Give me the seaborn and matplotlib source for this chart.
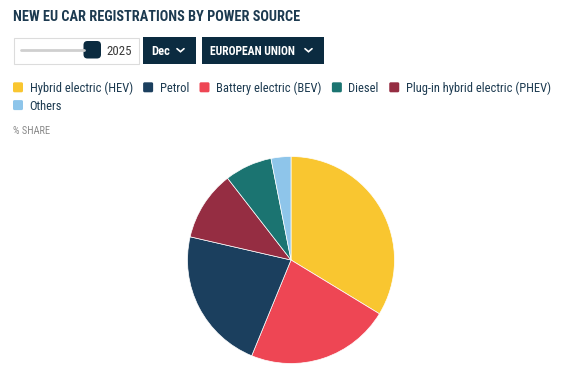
import matplotlib
matplotlib.use('Agg')
import matplotlib.pyplot as plt
from matplotlib import font_manager
from matplotlib.patches import FancyBboxPatch, Rectangle
import seaborn as sns

W, H = 567, 376

title = 'NEW EU CAR REGISTRATIONS BY POWER SOURCE'
year = '2025'
month = 'Dec'
region = 'EUROPEAN UNION'
unit_label = '% SHARE'

# legend order as shown above the chart
legend_labels = ['Hybrid electric (HEV)', 'Petrol', 'Battery electric (BEV)',
                 'Diesel', 'Plug-in hybrid electric (PHEV)', 'Others']
legend_colors = ['#F9C630', '#1B3F5E', '#EE4654', '#1B7471', '#952D42', '#8EC5EA']

# pie slices, clockwise from 12 o'clock (% share, Dec 2025)
pie_labels = ['Hybrid electric (HEV)', 'Battery electric (BEV)', 'Petrol',
              'Plug-in hybrid electric (PHEV)', 'Diesel', 'Others']
pie_share = [33.7, 22.5, 22.4, 10.9, 7.4, 3.1]

sns.set_theme(style='white')
palette = dict(zip(legend_labels, sns.color_palette(legend_colors)))

# pick a condensed face if the machine has one
fonts = font_manager.fontManager.ttflist
names = {f.name for f in fonts}
if 'Roboto Condensed' in names:
    cf = dict(family=['Roboto Condensed', 'DejaVu Sans'])
elif 'Liberation Sans Narrow' in names:
    cf = dict(family=['Liberation Sans Narrow', 'DejaVu Sans'])
else:
    cf = dict(family=['Roboto', 'DejaVu Sans'])

navy = '#0B2B40'
text_col = '#1C3A50'

fig = plt.figure(figsize=(W / 100, H / 100), dpi=100)
fig.patch.set_facecolor('white')

# overlay in pixel units for the header widgets
ui = fig.add_axes([0, 0, 1, 1])
ui.set_xlim(0, W)
ui.set_ylim(H, 0)
ui.axis('off')
renderer = fig.canvas.get_renderer()


def width(t):
    return t.get_window_extent(renderer).width


def fit(t, target):
    t.set_fontsize(t.get_fontsize() * target / width(t))


# title
t = ui.text(13, 20.7, title, fontsize=9, fontweight='bold', color=text_col, va='baseline', **cf)
fit(t, 286)

# year slider
ui.add_patch(Rectangle((14.5, 38.5), 125, 26, color='#E6E6E6', lw=0))
ui.add_patch(Rectangle((13.5, 37.5), 125, 26, facecolor='white', edgecolor='#DCDCDC', lw=0.8))
ui.plot([21, 84], [49.5, 49.5], color='#CFCFCF', lw=2, solid_capstyle='round')
ui.add_patch(FancyBboxPatch((83.5, 41), 17.5, 17.5, boxstyle='round,pad=0,rounding_size=4',
                            facecolor=navy, lw=0))
ui.text(106.5, 55.3, year, fontsize=9.3, color='#3A3A3A', va='baseline', **cf)

# month and region dropdowns
for x0, x1, lab, tw in [(143, 196, month, None), (202, 324, region, 86)]:
    ui.add_patch(Rectangle((x0, 37), x1 - x0, 26.5, facecolor=navy, lw=0))
    t = ui.text(x0 + 8, 55.3, lab, fontsize=9, color='white', fontweight='bold',
                va='baseline', **cf)
    if tw:
        fit(t, tw)
    cx = x1 - 15.5
    ui.plot([cx - 3.5, cx, cx + 3.5], [48.7, 51.7, 48.7], color='white', lw=1.2,
            solid_joinstyle='miter')

# legend, flowing left to right and wrapping
probe = ui.text(0, 0, legend_labels[0], fontsize=9, **cf)
fit(probe, 103.5)
leg_fs = probe.get_fontsize()
probe.remove()

x, yc = 13, 87.3
for lab in legend_labels:
    t = ui.text(0, yc + 4.4, lab, fontsize=leg_fs, color=text_col, va='baseline', **cf)
    tw = width(t)
    if x + 16.5 + tw > W - 12:
        x = 13
        yc += 17.8
        t.set_y(yc + 4.4)
    ui.add_patch(FancyBboxPatch((x, yc - 5), 10, 10, boxstyle='round,pad=0,rounding_size=1.5',
                                facecolor=palette[lab], lw=0))
    t.set_x(x + 16.5)
    x = x + 16.5 + tw + 10.5

ui.text(13, 134, unit_label, fontsize=7.5, color='#8A8A8A', va='baseline', **cf)

# pie
cx, cy, r = 291, 260, 103.5
ax = fig.add_axes([(cx - r) / W, 1 - (cy + r) / H, 2 * r / W, 2 * r / H])
ax.pie(pie_share, colors=[palette[l] for l in pie_labels], startangle=90,
       counterclock=False, wedgeprops=dict(linewidth=0.5, edgecolor='white'))
ax.set_xlim(-1, 1)
ax.set_ylim(-1, 1)
ax.axis('off')

fig.savefig('out.png', dpi=100)
